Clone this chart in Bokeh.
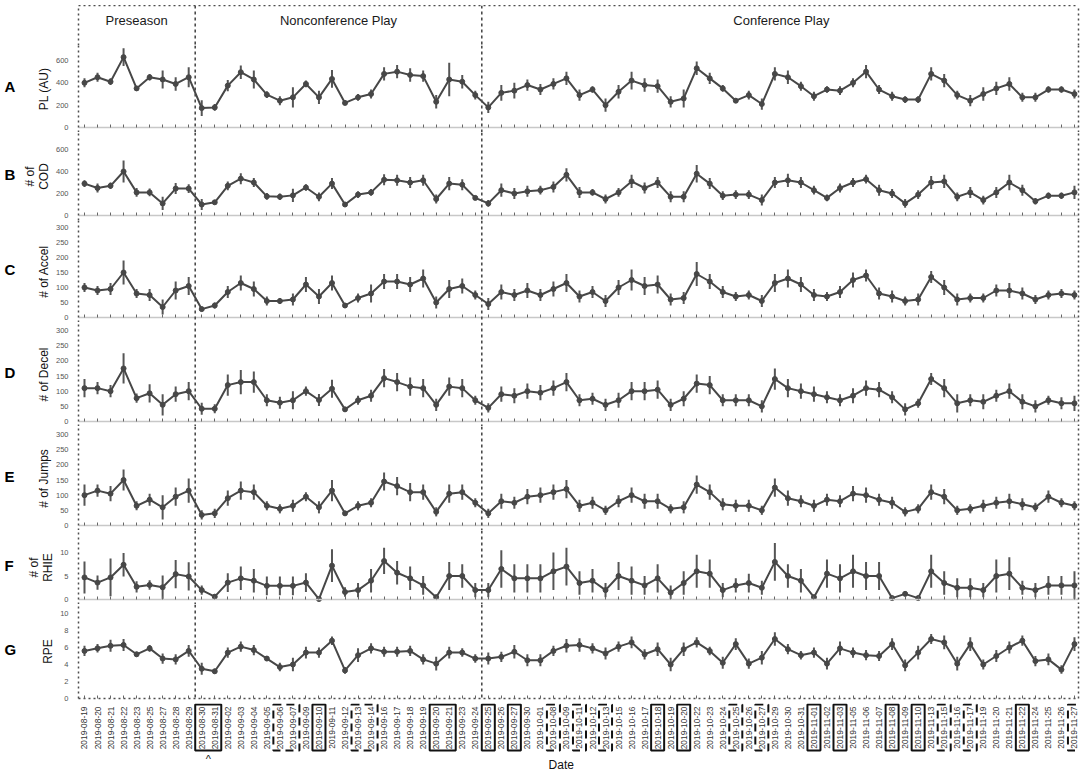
import math
from bokeh.plotting import figure
from bokeh.layouts import column, row
from bokeh.models import (ColumnDataSource, Range1d, FixedTicker, LinearAxis, Span, Spacer,
                          CustomJSTickFormatter)
from bokeh.core.properties import value
from bokeh.embed import file_html
from bokeh.resources import INLINE

# ---------------- data ----------------
dates = ["2019-08-19", "2019-08-20", "2019-08-21", "2019-08-22", "2019-08-23", "2019-08-25",
         "2019-08-27", "2019-08-28", "2019-08-29", "2019-08-30", "2019-08-31", "2019-09-02",
         "2019-09-03", "2019-09-04", "2019-09-05", "2019-09-06", "2019-09-07", "2019-09-09",
         "2019-09-10", "2019-09-11", "2019-09-12", "2019-09-13", "2019-09-14", "2019-09-16",
         "2019-09-17", "2019-09-18", "2019-09-19", "2019-09-20", "2019-09-21", "2019-09-23",
         "2019-09-24", "2019-09-25", "2019-09-26", "2019-09-27", "2019-09-30", "2019-10-01",
         "2019-10-08", "2019-10-09", "2019-10-11", "2019-10-12", "2019-10-13", "2019-10-15",
         "2019-10-16", "2019-10-17", "2019-10-18", "2019-10-19", "2019-10-20", "2019-10-22",
         "2019-10-23", "2019-10-24", "2019-10-25", "2019-10-26", "2019-10-27", "2019-10-29",
         "2019-10-30", "2019-10-31", "2019-11-01", "2019-11-02", "2019-11-03", "2019-11-05",
         "2019-11-06", "2019-11-07", "2019-11-08", "2019-11-09", "2019-11-10", "2019-11-13",
         "2019-11-15", "2019-11-16", "2019-11-17", "2019-11-19", "2019-11-20", "2019-11-21",
         "2019-11-22", "2019-11-24", "2019-11-25", "2019-11-26", "2019-11-27"]

phases = [("Preseason", "2019-08-19", "2019-08-29"),
          ("Nonconference Play", "2019-08-30", "2019-09-24"),
          ("Conference Play", "2019-09-25", "2019-11-27")]

solid_boxes = [("2019-08-30", "2019-08-31"), ("2019-09-10", "2019-09-10"),
               ("2019-09-20", "2019-09-21"), ("2019-09-25", "2019-09-25"),
               ("2019-09-27", "2019-09-27"), ("2019-10-18", "2019-10-18"),
               ("2019-10-20", "2019-10-20"), ("2019-11-01", "2019-11-01"),
               ("2019-11-03", "2019-11-03"), ("2019-11-08", "2019-11-08"),
               ("2019-11-10", "2019-11-10"), ("2019-11-22", "2019-11-22")]
dashed_boxes = [("2019-09-06", "2019-09-07"), ("2019-09-13", "2019-09-14"),
                ("2019-10-08", "2019-10-08"), ("2019-10-11", "2019-10-11"),
                ("2019-10-13", "2019-10-13"), ("2019-10-25", "2019-10-25"),
                ("2019-10-27", "2019-10-27"), ("2019-11-15", "2019-11-15"),
                ("2019-11-17", "2019-11-17"), ("2019-11-27", "2019-11-27")]
marked_box = ("2019-08-30", "2019-08-31")

pl_mean = [400, 450, 410, 630, 350, 450, 430, 390, 450,
           174, 180, 375, 495, 430, 294, 240, 270, 390, 270, 435, 220, 270, 300, 480, 500,
           470, 460, 230, 430, 410, 290,
           180, 310, 330, 380, 340, 390, 440, 290, 340, 200, 320, 420, 380, 370, 230, 260, 530, 440, 350,
           240, 290, 210, 480, 450, 370, 280, 340, 330, 400, 500, 340, 280, 250, 250, 480, 420, 290, 240,
           300, 350, 390, 270, 270, 340, 340, 300]
pl_err = [40, 40, 30, 80, 20, 30, 80, 60, 90,
          70, 30, 50, 60, 80, 30, 40, 90, 30, 60, 80, 15, 30, 40, 60, 60,
          60, 50, 60, 150, 60, 40,
          50, 70, 70, 50, 50, 50, 60, 50, 30, 60, 60, 80, 60, 60, 50, 80, 60, 50, 30,
          20, 40, 50, 60, 60, 40, 40, 30, 40, 40, 60, 40, 40, 30, 30, 60, 60, 40, 50,
          60, 60, 60, 40, 40, 30, 30, 40]

cod_mean = [290, 250, 270, 400, 210, 210, 110, 245, 245,
            100, 120, 270, 335, 300, 174, 170, 183, 255, 170, 290, 100, 190, 210, 325, 320,
            300, 320, 150, 290, 280, 160,
            110, 230, 200, 220, 230, 260, 370, 210, 210, 150, 210, 310, 250, 300, 170, 170, 380, 290, 180,
            190, 190, 140, 300, 320, 300, 230, 160, 250, 300, 330, 230, 200, 110, 190, 300, 310, 170, 210,
            140, 210, 300, 230, 130, 180, 180, 210]
cod_err = [30, 40, 30, 100, 40, 35, 60, 50, 40,
           50, 20, 40, 50, 40, 30, 30, 60, 30, 40, 50, 15, 30, 30, 50, 50,
           50, 50, 40, 60, 50, 20,
           30, 60, 50, 50, 40, 50, 60, 50, 30, 40, 40, 60, 50, 50, 50, 50, 80, 50, 40,
           40, 40, 50, 50, 60, 50, 40, 30, 40, 40, 40, 50, 40, 40, 40, 60, 60, 40, 50,
           40, 50, 70, 50, 30, 30, 30, 60]

acc_mean = [100, 90, 95, 150, 80, 75, 35, 90, 105,
            28, 40, 85, 115, 95, 55, 55, 60, 110, 70, 115, 40, 65, 80, 120, 120,
            110, 130, 50, 95, 105, 75,
            45, 85, 75, 90, 75, 95, 115, 70, 85, 55, 100, 125, 105, 110, 60, 65, 145, 120, 85,
            70, 75, 55, 115, 130, 110, 75, 70, 85, 125, 140, 80, 70, 55, 60, 135, 100, 60, 65,
            65, 90, 90, 80, 60, 75, 80, 75]
acc_err = [15, 15, 20, 40, 15, 20, 25, 30, 30,
           8, 10, 20, 25, 25, 15, 10, 20, 25, 25, 25, 8, 15, 30, 25, 25,
           25, 30, 20, 30, 25, 15,
           20, 25, 20, 25, 20, 25, 30, 20, 20, 20, 25, 35, 30, 30, 20, 20, 40, 25, 20,
           15, 15, 20, 30, 30, 25, 20, 15, 20, 25, 20, 20, 20, 15, 20, 20, 25, 20, 15,
           15, 20, 25, 20, 15, 15, 15, 15]

dec_mean = [110, 110, 100, 175, 77, 93, 55, 90, 100,
            42, 42, 120, 130, 130, 70, 62, 70, 100, 71, 108, 40, 70, 85, 143, 130,
            115, 110, 55, 115, 110, 70,
            45, 90, 85, 100, 95, 110, 130, 70, 75, 55, 70, 100, 100, 105, 55, 75, 125, 120, 70,
            70, 70, 50, 140, 110, 100, 90, 80, 70, 85, 110, 105, 80, 40, 60, 140, 110, 60, 70,
            65, 85, 100, 65, 50, 70, 60, 60]
dec_err = [30, 20, 20, 50, 15, 30, 35, 25, 30,
           20, 15, 35, 40, 35, 20, 20, 30, 15, 20, 30, 8, 15, 20, 30, 30,
           30, 30, 20, 30, 30, 15,
           15, 25, 25, 25, 25, 25, 30, 20, 20, 20, 25, 30, 30, 30, 20, 25, 30, 30, 20,
           20, 20, 20, 35, 30, 25, 25, 20, 20, 25, 25, 25, 20, 20, 15, 20, 30, 30, 20,
           25, 20, 25, 25, 20, 15, 20, 25]

jmp_mean = [100, 115, 105, 150, 65, 85, 60, 95, 115,
            35, 40, 90, 115, 110, 65, 55, 65, 95, 60, 115, 40, 65, 75, 145, 130,
            110, 110, 45, 105, 110, 75,
            40, 80, 75, 95, 100, 110, 120, 65, 75, 50, 80, 100, 80, 80, 55, 60, 135, 110, 70,
            65, 65, 50, 125, 90, 80, 65, 85, 80, 105, 100, 85, 75, 45, 55, 110, 95, 50, 55,
            65, 75, 80, 70, 60, 95, 75, 65]
jmp_err = [35, 20, 25, 35, 15, 20, 40, 30, 40,
           15, 15, 25, 30, 25, 15, 15, 20, 15, 20, 35, 8, 15, 15, 30, 30,
           30, 25, 15, 30, 25, 15,
           15, 25, 20, 25, 25, 25, 30, 20, 20, 15, 20, 25, 25, 25, 15, 20, 30, 25, 20,
           20, 20, 15, 30, 25, 20, 20, 20, 20, 25, 25, 20, 20, 15, 15, 25, 25, 15, 15,
           20, 20, 25, 20, 15, 20, 15, 15]

rhie_mean = [4.7, 3.6, 4.7, 7.4, 2.7, 3.1, 2.6, 5.4, 4.9,
             2.0, 0.6, 3.6, 4.5, 4.0, 2.9, 2.9, 2.9, 3.6, 0.1, 7.2, 1.6, 2.0, 4.0, 8.2, 5.7,
             4.5, 3.0, 0.5, 5.0, 5.0, 2.0,
             2.0, 6.5, 4.5, 4.5, 4.5, 6.0, 7.0, 3.5, 4.0, 2.0, 5.0, 4.0, 3.0, 4.5, 1.5, 3.5, 6.0, 5.5, 2.0,
             3.0, 3.5, 2.5, 8.0, 5.0, 4.0, 0.5, 5.5, 4.5, 6.0, 5.0, 5.0, 0.3, 1.2, 0.3, 6.0, 3.5, 2.5, 2.5,
             2.0, 5.0, 5.5, 2.5, 2.0, 3.0, 3.0, 3.0]
rhie_err = [3.4, 1.5, 4.0, 2.5, 1.2, 1.0, 2.5, 3.0, 3.0,
            1.0, 0.5, 2.0, 2.5, 2.5, 2.0, 2.0, 2.0, 2.0, 0.1, 3.5, 1.0, 1.5, 2.5, 2.8, 2.5,
            2.5, 2.0, 0.5, 3.0, 2.5, 1.5,
            1.5, 4.0, 3.0, 3.0, 3.0, 4.0, 4.0, 2.5, 2.5, 1.5, 3.0, 3.0, 2.0, 3.0, 1.5, 2.5, 3.5, 3.0, 1.5,
            1.5, 2.0, 1.5, 4.0, 2.5, 2.5, 0.5, 3.0, 3.0, 3.5, 3.0, 3.0, 0.3, 0.5, 0.3, 3.5, 2.5, 2.0, 2.0,
            1.5, 3.5, 3.5, 1.5, 1.5, 2.0, 2.0, 3.0]

rpe_mean = [5.6, 5.9, 6.2, 6.3, 5.2, 5.9, 4.7, 4.6, 5.6,
            3.5, 3.2, 5.4, 6.1, 5.7, 4.7, 3.7, 4.0, 5.4, 5.4, 6.8, 3.3, 5.1, 5.9, 5.5, 5.5,
            5.6, 4.6, 4.1, 5.4, 5.4, 4.7,
            4.7, 4.9, 5.5, 4.5, 4.5, 5.6, 6.2, 6.3, 5.9, 5.3, 6.1, 6.6, 5.2, 5.8, 4.0, 5.8, 6.6, 5.6, 4.2,
            6.4, 4.1, 4.8, 7.0, 5.8, 5.1, 5.4, 4.1, 5.9, 5.4, 5.1, 5.0, 6.4, 3.9, 5.4, 7.0, 6.6, 4.1, 6.4,
            4.0, 5.0, 6.0, 6.8, 4.4, 4.6, 3.4, 6.4]
rpe_err = [0.6, 0.5, 0.7, 0.7, 0.3, 0.4, 0.6, 0.6, 0.7,
           0.7, 0.3, 0.6, 0.6, 0.6, 0.3, 0.5, 0.8, 0.7, 0.6, 0.5, 0.4, 0.8, 0.6, 0.6, 0.6,
           0.6, 0.6, 0.8, 0.7, 0.5, 0.5,
           0.7, 0.6, 0.8, 0.7, 0.7, 0.6, 0.8, 0.8, 0.6, 0.7, 0.6, 0.7, 0.6, 0.8, 0.8, 0.8, 0.6, 0.5, 0.7,
           0.7, 0.6, 0.8, 0.8, 0.6, 0.5, 0.6, 0.7, 0.8, 0.6, 0.6, 0.6, 0.7, 0.7, 0.8, 0.6, 0.8, 0.8, 0.8,
           0.6, 0.7, 0.7, 0.6, 0.6, 0.7, 0.5, 0.8]

panels = [
    # letter, y label, mean, err, y ticks
    ("A", "PL (AU)", pl_mean, pl_err, [0, 200, 400, 600]),
    ("B", "# of\nCOD", cod_mean, cod_err, [0, 200, 400, 600]),
    ("C", "# of Accel", acc_mean, acc_err, [0, 50, 100, 150, 200, 250, 300]),
    ("D", "# of Decel", dec_mean, dec_err, [0, 50, 100, 150, 200, 250, 300]),
    ("E", "# of Jumps", jmp_mean, jmp_err, [0, 50, 100, 150, 200, 250, 300]),
    ("F", "# of\nRHIE", rhie_mean, rhie_err, [0, 5, 10]),
    ("G", "RPE", rpe_mean, rpe_err, [0, 2, 4, 6, 8, 10]),
]

n = len(dates)
for _, _, m, e, _ in panels:
    assert len(m) == n and len(e) == n, (len(m), len(e))

# ---------------- layout / style ----------------
FONT = "Liberation Sans"
LETTER_W = 18
W = 1062            # panel figure width (letter column + panel = 1080)
LEFT = 60           # frame starts at x = 78
RIGHT = 2
BORDER = "#4d4d4d"
LINE = "#474747"
idx = {d: i for i, d in enumerate(dates)}
x_range = Range1d(-0.46, n - 1 + 0.31)

# figure height (px), px below the zero line, px per data unit
panel_geom = {"A": (87, 5, 0.1117), "B": (88, 5, 0.110), "C": (102, 5, 0.300),
              "D": (104, 5, 0.3033), "E": (104, 5, 0.3033), "F": (74, 5, 4.7),
              "G": (99, 5, 8.5)}
TOP_GAP = 5
HEADER_H = 40
LABELS_H = 68

sep_positions = [idx[start] - 0.5 for _, start, _ in phases[1:]]


def base_fig(w, h, y_range, left=LEFT, right=RIGHT, bottom=0):
    p = figure(width=w, height=h, x_range=x_range, y_range=y_range,
               output_backend="svg", toolbar_location=None,
               x_axis_location=None, y_axis_location=None,
               min_border_left=left, min_border_right=right,
               min_border_top=0, min_border_bottom=bottom)
    p.outline_line_color = None
    p.xgrid.visible = False
    p.ygrid.visible = False
    p.border_fill_color = "white"
    return p


def empty_axis(dotted=True):
    ax = LinearAxis(ticker=FixedTicker(ticks=[]), major_label_text_font_size="0px",
                    major_tick_line_color=None, minor_tick_line_color=None)
    if dotted:
        ax.axis_line_color = BORDER
        ax.axis_line_dash = "2 3"
        ax.axis_line_width = 1.5
    else:
        ax.axis_line_color = None
    return ax


def add_separators(p):
    for loc in sep_positions:
        p.add_layout(Span(location=loc, dimension="height", line_color="#4a4a4a",
                          line_dash="3 3", line_width=1.6))


def letter_fig(h, letter, y_center):
    lf = figure(width=LETTER_W, height=h, x_range=Range1d(0, LETTER_W),
                y_range=Range1d(0, h), output_backend="svg", toolbar_location=None,
                x_axis_location=None, y_axis_location=None,
                min_border_left=0, min_border_right=0, min_border_top=0, min_border_bottom=0)
    lf.outline_line_color = None
    lf.xgrid.visible = False
    lf.ygrid.visible = False
    lf.text(x=[4], y=[y_center], text=[letter], text_font=value(FONT),
            text_font_size="15px", text_font_style="bold", text_align="left",
            text_baseline="middle", text_color="black")
    return lf


rows = [Spacer(width=LETTER_W + W, height=TOP_GAP)]

# header with phase names
hdr = base_fig(W, HEADER_H, Range1d(0, HEADER_H))
hdr.add_layout(empty_axis(True), "left")
hdr.add_layout(empty_axis(True), "right")
hdr.add_layout(empty_axis(True), "above")
add_separators(hdr)
hdr_src = ColumnDataSource(dict(
    x=[(idx[a] + idx[b]) / 2 for _, a, b in phases],
    y=[HEADER_H - 15] * len(phases),
    t=[name for name, _, _ in phases]))
hdr.text(x="x", y="y", text="t", source=hdr_src, text_font=value(FONT),
         text_font_size="13px", text_align="center", text_baseline="middle",
         text_color="#1a1a1a")
rows.append(row(Spacer(width=LETTER_W, height=HEADER_H), hdr, spacing=0))

for letter, ylab, mean, err, ticks in panels:
    h, pad, ppu = panel_geom[letter]
    last = letter == "G"
    if last:
        y_range = Range1d(0, (h - pad) / ppu)
        p = base_fig(W, h, y_range, bottom=pad)
    else:
        y_range = Range1d(-pad / ppu, (h - pad) / ppu)
        p = base_fig(W, h, y_range)
    yax = LinearAxis(ticker=FixedTicker(ticks=ticks), axis_label=ylab,
                     axis_label_text_font=FONT, axis_label_text_font_size="12px",
                     axis_label_text_font_style="normal", axis_label_text_color="#111111",
                     axis_label_text_line_height=1.0,
                     axis_label_standoff=2,
                     major_label_text_font=FONT, major_label_text_font_size="7.5px",
                     major_label_text_color="#555555", major_label_standoff=10,
                     major_tick_out=0, major_tick_in=0, major_tick_line_color=None,
                     minor_tick_line_color=None,
                     axis_line_color=BORDER, axis_line_dash="2 3", axis_line_width=1.5)
    p.add_layout(yax, "left")
    p.add_layout(empty_axis(True), "right")
    xax = LinearAxis(ticker=FixedTicker(ticks=list(range(n))),
                     formatter=CustomJSTickFormatter(code="return ''"),
                     major_label_text_font_size="0px", major_label_standoff=0,
                     major_tick_in=3, major_tick_out=0, major_tick_line_color="#666666",
                     minor_tick_line_color=None)
    if last:
        xax.axis_line_color = BORDER
        xax.axis_line_dash = "2 3"
        xax.axis_line_width = 1.5
    else:
        xax.fixed_location = 0
        xax.axis_line_color = "#c8c8c8"
        xax.axis_line_width = 1.5
    p.add_layout(xax, "below")
    add_separators(p)

    src = ColumnDataSource(dict(x=list(range(n)), y=mean,
                                lo=[m - e for m, e in zip(mean, err)],
                                hi=[m + e for m, e in zip(mean, err)]))
    p.segment(x0="x", y0="lo", x1="x", y1="hi", source=src, line_color="#555555",
              line_width=2)
    p.line(x="x", y="y", source=src, line_color=LINE, line_width=2)
    p.scatter(x="x", y="y", source=src, size=5, color=LINE)

    lf = letter_fig(h, letter, pad + (h - pad) / 2)
    rows.append(row(lf, p, spacing=0))

# date labels, game boxes, axis title
lab = base_fig(W, LABELS_H, Range1d(0, LABELS_H))
lab.add_layout(empty_axis(False), "right")
lab_src = ColumnDataSource(dict(x=list(range(n)), y=[LABELS_H - 3] * n, t=dates))
lab.text(x="x", y="y", text="t", source=lab_src, angle=math.pi / 2,
         text_font=value(FONT), text_font_size="8.4px", text_align="right",
         text_baseline="middle", text_color="#333333")


def box_src(boxes):
    return ColumnDataSource(dict(
        left=[idx[a] - 0.5 for a, b in boxes],
        right=[idx[b] + 0.5 for a, b in boxes],
        top=[LABELS_H - 1] * len(boxes),
        bottom=[LABELS_H - 47] * len(boxes)))


lab.quad(left="left", right="right", top="top", bottom="bottom", source=box_src(solid_boxes),
         fill_color=None, line_color="#111111", line_width=2)
lab.quad(left="left", right="right", top="top", bottom="bottom", source=box_src(dashed_boxes),
         fill_color=None, line_color="#111111", line_width=2, line_dash="8 5")
lab.text(x=[(idx[marked_box[0]] + idx[marked_box[1]]) / 2], y=[LABELS_H - 49], text=["^"],
         text_font=value(FONT), text_font_size="11px", text_align="center",
         text_baseline="top", text_color="#111111")
lab.text(x=[36.6], y=[7], text=["Date"], text_font=value(FONT),
         text_font_size="12px", text_align="center", text_baseline="middle",
         text_color="#111111")
rows.append(row(Spacer(width=LETTER_W, height=LABELS_H), lab, spacing=0))

layout = column(*rows, spacing=0)
open("out.html", "w").write(file_html(layout, INLINE, title="Training load"))
